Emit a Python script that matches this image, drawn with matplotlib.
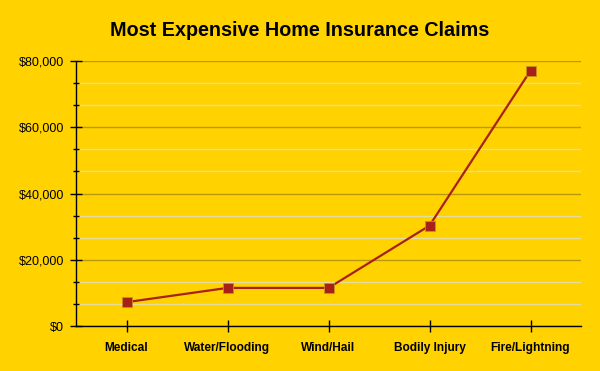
import matplotlib
matplotlib.use("Agg")
import matplotlib.pyplot as plt
from matplotlib.ticker import MultipleLocator, FuncFormatter

plt.rcParams['font.family'] = ['Liberation Sans', 'DejaVu Sans']

categories = ["Medical", "Water/Flooding", "Wind/Hail", "Bodily Injury", "Fire/Lightning"]
claims = [7200, 11500, 11500, 30300, 77100]

bg = "#FFD200"
fig = plt.figure(figsize=(6, 3.71), dpi=100, facecolor=bg)
ax = fig.add_axes([76/600, 1 - 326/371, (581-76)/600, (326-61)/371])
ax.set_facecolor(bg)

x = list(range(len(categories)))
ax.plot(x, claims, color="#A8201A", lw=1.6, marker="s", ms=6.5,
        mfc="#A8201A", mec="#C8901A", mew=0.6, zorder=3)

ax.set_xlim(-0.5, len(categories) - 0.5)
ax.set_ylim(0, 80000)
ax.yaxis.set_major_locator(MultipleLocator(20000))
ax.yaxis.set_minor_locator(MultipleLocator(20000/3))
ax.yaxis.set_major_formatter(FuncFormatter(lambda v, p: "${:,.0f}".format(v)))
ax.set_xticks(x)
ax.set_xticklabels(categories, fontweight="bold", fontsize=8.6)

ax.grid(axis="y", which="major", color="#B89A10", lw=1)
ax.grid(axis="y", which="minor", color="#E6DCA0", lw=1)
ax.set_axisbelow(True)

for s in ["top", "right"]:
    ax.spines[s].set_visible(False)
ax.spines["left"].set_linewidth(1)
ax.spines["bottom"].set_linewidth(1)

ax.tick_params(axis="y", which="major", length=8.5, width=1, labelsize=9, pad=4.5,
               direction="inout")
ax.tick_params(axis="y", which="minor", length=5, width=1, direction="inout")
ax.tick_params(axis="x", length=8.5, width=1, pad=7, direction="inout")

fig.text(0.5, 1 - 31/371, "Most Expensive Home Insurance Claims",
         ha="center", va="center", fontsize=14.2, fontweight="bold")

fig.savefig("out.png", dpi=100, facecolor=bg)
